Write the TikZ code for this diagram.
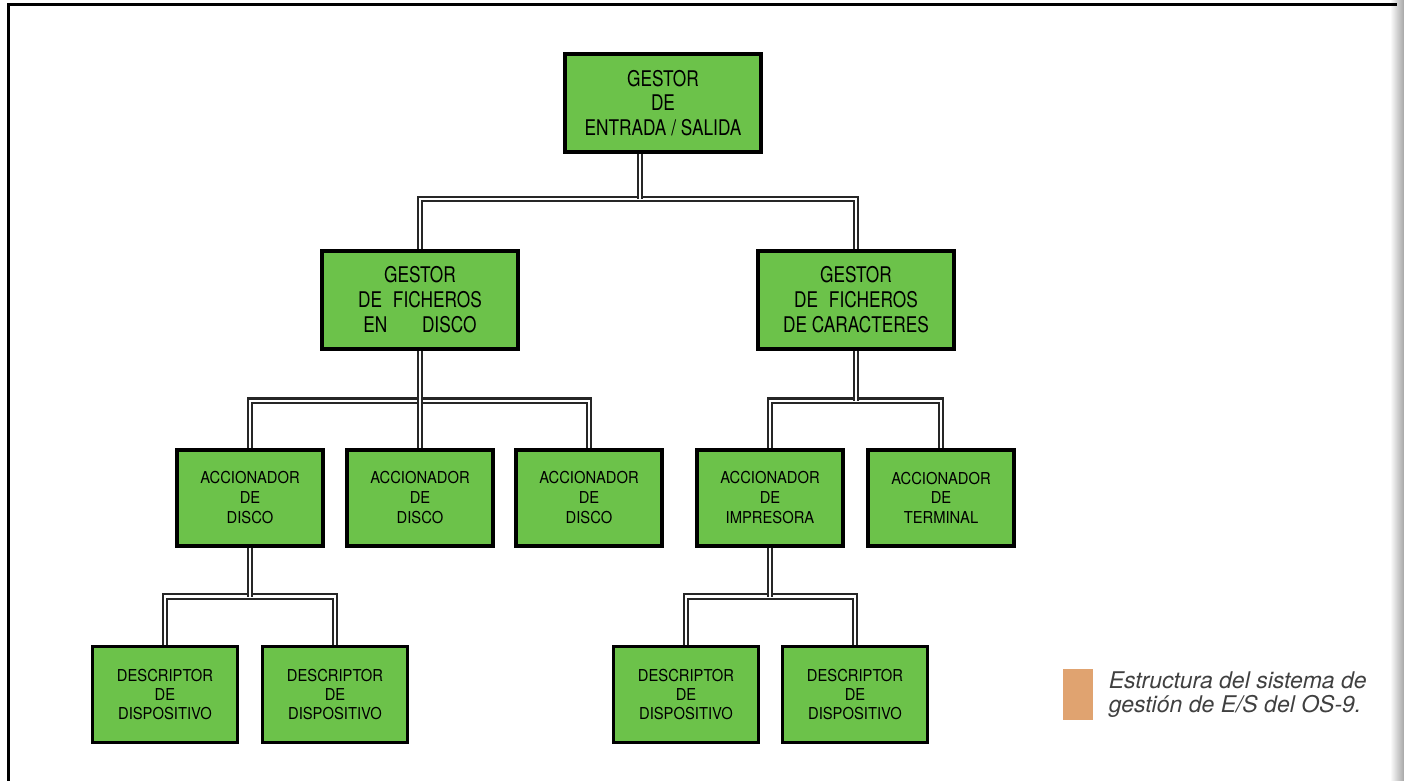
\documentclass[tikz,border=0pt]{standalone}
\usepackage{fontspec}
\setsansfont{TeX Gyre Heros}
\newfontfamily\bigboxfont[FakeStretch=0.8]{TeX Gyre Heros}
\newfontfamily\smallboxfont[FakeStretch=0.9]{TeX Gyre Heros}
\usepackage{xcolor}
\usepackage{tikz}
\usetikzlibrary{positioning}
\definecolor{boxgreen}{RGB}{108,194,74}
\definecolor{keyorange}{RGB}{224,163,112}
\tikzset{
  mgr/.style={rectangle, minimum width=98pt, minimum height=49pt, align=center, draw=black, line width=1.9pt, fill=boxgreen, font=\bigboxfont\fontsize{10.8}{12.4}\selectfont},
  drv/.style={rectangle, minimum width=73pt, minimum height=48pt, align=center, draw=black, line width=1.9pt, fill=boxgreen, font=\smallboxfont\fontsize{8.2}{9.8}\selectfont},
  desc/.style={drv, minimum width=72.5pt, font=\smallboxfont\fontsize{8.2}{9.4}\selectfont},
  link/.style={draw=black!85, line width=1.1pt, double=white, double distance=1.1pt},
  swatch/.style={rectangle, minimum width=15pt, minimum height=25.5pt, inner sep=0pt, fill=keyorange},
  caption/.style={inner sep=0pt, align=left, font=\sffamily\itshape\fontsize{11.5}{11.8}\selectfont, text=black!75}
}
\begin{document}
\begin{tikzpicture}[x=0.5pt, y=-0.5pt]
\useasboundingbox (0,0) rectangle (1404,781);
% frame and page edge
\fill[left color=white, right color=black!35] (1390,0) rectangle (1404,781);
\draw[line width=1.5pt] (8,781) -- (8,5) -- (1397,5);

% managers
\node[mgr] (io) at (663,103) {GESTOR\\DE\\ENTRADA / SALIDA};
\node[mgr, below=47.5pt of io, xshift=-121.5pt] (disk) {GESTOR\\DE\hspace{0.5em}FICHEROS\\EN\hspace{1.6em}DISCO};
\node[mgr, below=47.5pt of io, xshift=96.5pt] (chr) {GESTOR\\DE\hspace{0.5em}FICHEROS\\DE CARACTERES};

% drivers
\node[drv, below=48.5pt of disk, xshift=-85pt] (drvA) {ACCIONADOR\\DE\\DISCO};
\node[drv, below=48.5pt of disk] (drvB) {ACCIONADOR\\DE\\DISCO};
\node[drv, below=48.5pt of disk, xshift=84.5pt] (drvC) {ACCIONADOR\\DE\\DISCO};
\node[drv, below=48.5pt of chr, xshift=-43pt] (drvP) {ACCIONADOR\\DE\\IMPRESORA};
\node[drv, below=48.5pt of chr, xshift=42.5pt] (drvT) {ACCIONADOR\\DE\\TERMINAL};

% device descriptors
\node[desc, below=48.5pt of drvA, xshift=-42.5pt] (descA) {DESCRIPTOR\\DE\\DISPOSITIVO};
\node[desc, below=48.5pt of drvA, xshift=42.5pt] (descB) {DESCRIPTOR\\DE\\DISPOSITIVO};
\node[desc, below=48.5pt of drvP, xshift=-42pt] (descC) {DESCRIPTOR\\DE\\DISPOSITIVO};
\node[desc, below=48.5pt of drvP, xshift=42.5pt] (descD) {DESCRIPTOR\\DE\\DISPOSITIVO};

% bars
\coordinate (bar1) at ([xshift=-11.5pt, yshift=-22.5pt]io.south);
\coordinate (bar2) at ([yshift=-25pt]disk.south);
\coordinate (bar3) at ([yshift=-25pt]chr.south);
\coordinate (bar4) at ([yshift=-24.5pt]drvA.south);
\coordinate (bar5) at ([yshift=-24.5pt]drvP.south);

\draw[link] (disk.north) |- (bar1) -| (chr.north);
\draw[link] ([xshift=-11.5pt]io.south) -- (bar1);
\draw[link] (drvA.north) |- (bar2) -| (drvC.north);
\draw[link] (disk) -- (drvB);
\draw[link] (drvP.north) |- (bar3) -| (drvT.north);
\draw[link] (chr.south) -- (bar3);
\draw[link] (descA.north) |- (bar4) -| (descB.north);
\draw[link] (drvA.south) -- (bar4);
\draw[link] (descC.north) |- (bar5) -| (descD.north);
\draw[link] (drvP.south) -- (bar5);

% key
\node[swatch] (key) at (1078,694.5) {};
\node[caption, right=7.5pt of key] (cap) {Estructura del sistema de\\gestión de E/S del OS-9.};
\end{tikzpicture}
\end{document}
